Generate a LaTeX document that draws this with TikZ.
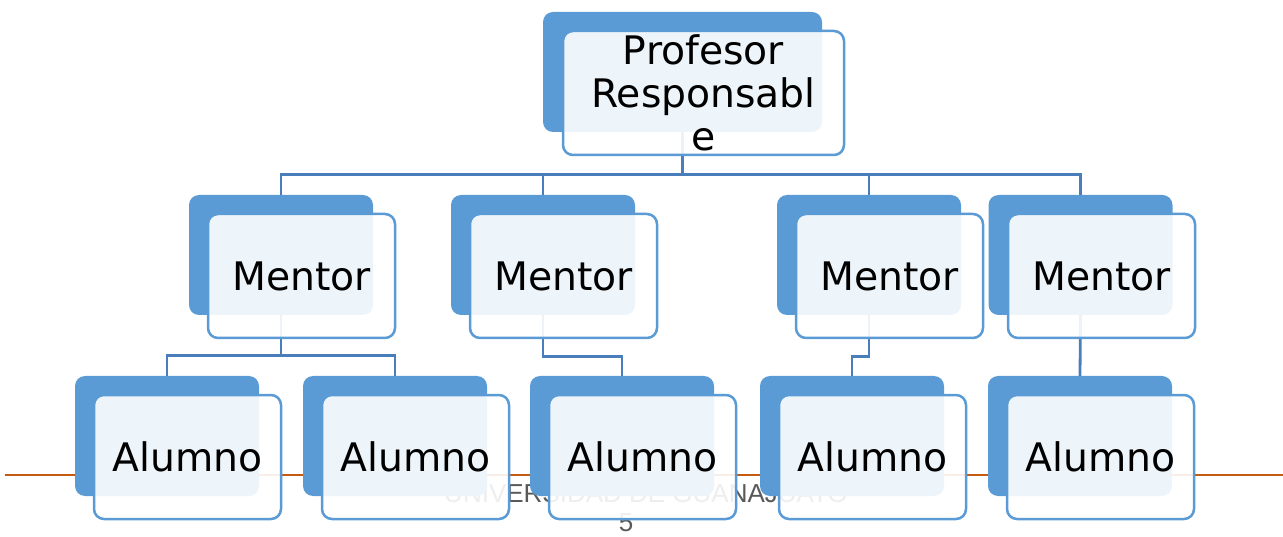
\documentclass[tikz,border=0pt]{standalone}
\usepackage{fontspec}
\setmainfont{DejaVu Sans}
\newfontfamily\footfont{Liberation Sans}
\usepackage{xcolor}
\usetikzlibrary{calc}

\definecolor{boxblue}{HTML}{5B9BD5}
\definecolor{linkblue}{HTML}{4A7EBB}
\definecolor{footorange}{HTML}{C55A11}
\definecolor{footgray}{HTML}{595959}

\begin{document}
\begin{tikzpicture}[x=1pt,y=-1pt,
	backbox/.style={fill=boxblue, rounded corners=10pt, inner sep=0pt, minimum width=184pt, minimum height=120pt},
	frontbox/.style={draw=boxblue, line width=2.5pt, fill=white, fill opacity=0.9, text opacity=1, rounded corners=10pt, inner sep=0pt, minimum width=187pt, minimum height=124pt, font=\fontsize{39.3}{43}\selectfont, align=center},
	link/.style={draw=linkblue, line width=2.8pt},
	footer/.style={text=footgray, font=\footfont\fontsize{26}{30}\selectfont}]

	\useasboundingbox (0,0) rectangle (1283,537);

	% footer
	\draw[footorange, line width=2pt] (5,475) -- (1283,475);
	\node[footer, anchor=base] (uni) at (646,502) {UNIVERSIDAD DE GUANAJUATO};
	\node[footer, anchor=base] (page) at (626,531) {5};

	% back boxes
	\node[backbox, minimum width=279pt] (pb) at (682.5,72) {};
	\node[backbox] (m1b) at (281,255) {};
	\node[backbox] (m2b) at (543,255) {};
	\node[backbox] (m3b) at (869,255) {};
	\node[backbox] (m4b) at (1080.5,255) {};
	\node[backbox] (a1b) at (167,436) {};
	\node[backbox] (a2b) at (395,436) {};
	\node[backbox] (a3b) at (622,436) {};
	\node[backbox] (a4b) at (852,436) {};
	\node[backbox] (a5b) at (1080,436) {};

	% connectors
	\draw[link] (pb.south) -- ++(0,43);
	\draw[link] (m1b.north) -- ++(0,-20) -| (m4b.north);
	\draw[link] (m2b.north) -- ++(0,-20);
	\draw[link] (m3b.north) -- ++(0,-20);

	\draw[link] (m1b.south) -- ++(0,40) -| (a1b.north);
	\draw[link] (m1b.south) -- ++(0,40) -| (a2b.north);
	\draw[link] (m2b.south) -- ++(0,41) -| (a3b.north);
	\draw[link] (m3b.south) -- ++(0,41) -| (a4b.north);
	\draw[link] (m4b.south) -- (a5b.north);

	% front boxes
	\node[frontbox, minimum width=281pt] (p) at (703.5,93) {Profesor\\Responsabl\\e};
	\node[frontbox] (m1) at (301.5,276) {Mentor};
	\node[frontbox] (m2) at (563.5,276) {Mentor};
	\node[frontbox] (m3) at (889.5,276) {Mentor};
	\node[frontbox] (m4) at (1101.5,276) {Mentor};
	\node[frontbox] (a1) at (187.5,457) {Alumno};
	\node[frontbox] (a2) at (415.5,457) {Alumno};
	\node[frontbox] (a3) at (642.5,457) {Alumno};
	\node[frontbox] (a4) at (872.5,457) {Alumno};
	\node[frontbox] (a5) at (1100.5,457) {Alumno};
\end{tikzpicture}
\end{document}
